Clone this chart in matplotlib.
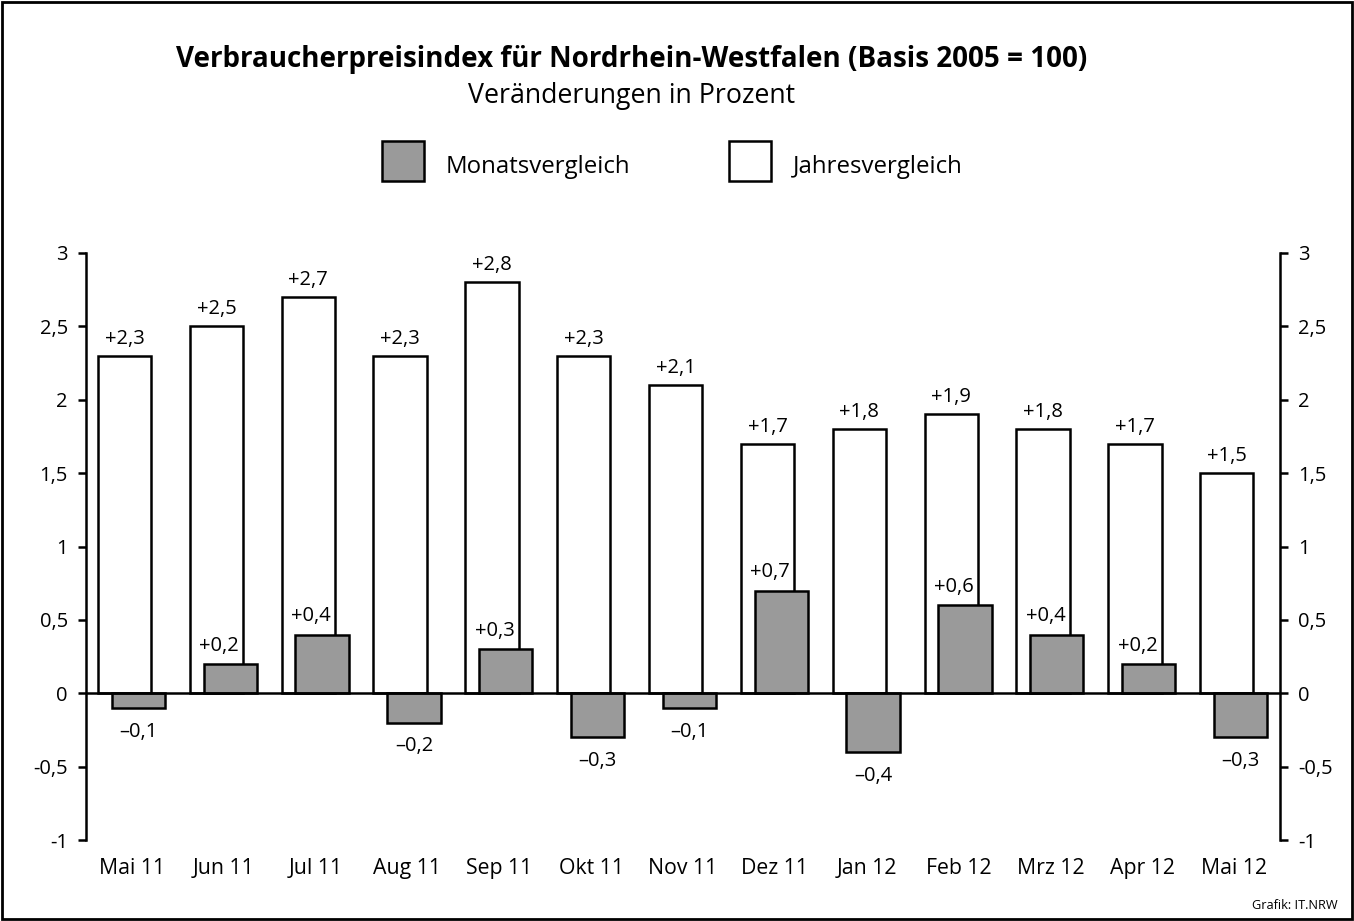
import matplotlib
matplotlib.use("Agg")
import matplotlib.pyplot as plt
from matplotlib.patches import Rectangle
import numpy as np

plt.rcParams['font.family'] = ['Open Sans', 'DejaVu Sans']

months = ["Mai 11", "Jun 11", "Jul 11", "Aug 11", "Sep 11", "Okt 11", "Nov 11",
          "Dez 11", "Jan 12", "Feb 12", "Mrz 12", "Apr 12", "Mai 12"]
jahres = [2.3, 2.5, 2.7, 2.3, 2.8, 2.3, 2.1, 1.7, 1.8, 1.9, 1.8, 1.7, 1.5]
monats = [-0.1, 0.2, 0.4, -0.2, 0.3, -0.3, -0.1, 0.7, -0.4, 0.6, 0.4, 0.2, -0.3]
yticks = [-1, -0.5, 0, 0.5, 1, 1.5, 2, 2.5, 3]
ytick_labels = ["-1", "-0,5", "0", "0,5", "1", "1,5", "2", "2,5", "3"]

W, H = 1354, 921
fig = plt.figure(figsize=(W / 100, H / 100), dpi=100)

# Figure border
fig.patches.append(Rectangle((2 / W, 2 / H), (W - 4) / W, (H - 4) / H,
                             transform=fig.transFigure, fill=False,
                             edgecolor='black', linewidth=2.0, zorder=10))

ax = fig.add_axes([86 / W, 1 - 840 / H, (1280 - 86) / W, (840 - 253) / H])
x = np.arange(len(months))
bw = 0.58
off_w = -0.08
off_m = 0.07
gray = '#9a9a9a'

ax.bar(x + off_w, jahres, width=bw, color='white', edgecolor='black', linewidth=1.8, zorder=2)
ax.bar(x + off_m, monats, width=bw, color=gray, edgecolor='black', linewidth=1.8, zorder=3)
ax.axhline(0, color='black', linewidth=1.8, zorder=4)

def fmt(v):
    s = f"{abs(v):.1f}".replace('.', ',')
    return ('+' if v > 0 else '\u2013') + s

fs = 14.5
for i, v in enumerate(jahres):
    ax.annotate(fmt(v), (x[i] + off_w, v), xytext=(0, 5), textcoords='offset points',
                ha='center', va='bottom', fontsize=fs, zorder=5)
for i, v in enumerate(monats):
    if v > 0:
        ax.annotate(fmt(v), (x[i] - 0.05, v), xytext=(0, 6), textcoords='offset points',
                    ha='center', va='bottom', fontsize=fs, zorder=5)
    else:
        ax.annotate(fmt(v), (x[i] + off_m, v), xytext=(0, -10), textcoords='offset points',
                    ha='center', va='top', fontsize=fs, zorder=5)

ax.set_xlim(-0.5, len(months) - 0.5)
ax.set_ylim(-1, 3)
ax.set_yticks(yticks)
ax.set_yticklabels(ytick_labels)
ax.set_xticks(x)
ax.set_xticklabels(months)
ax.tick_params(axis='x', length=0, pad=13, labelsize=15.3)
ax.tick_params(axis='y', direction='out', length=6, width=1.8, pad=7, labelsize=14.5,
               left=True, right=True, labelleft=True, labelright=True)
for s in ['top', 'bottom']:
    ax.spines[s].set_visible(False)
for s in ['left', 'right']:
    ax.spines[s].set_linewidth(1.8)

# Titles
fig.text(632 / W, 1 - 60 / H, "Verbraucherpreisindex für Nordrhein-Westfalen (Basis 2005 = 100)",
         ha='center', va='center', fontsize=20, fontweight='bold')
fig.text(632 / W, 1 - 96 / H, "Veränderungen in Prozent", ha='center', va='center', fontsize=19.3)

# Legend
fig.patches.append(Rectangle((382 / W, 1 - 181 / H), 42 / W, 40 / H, transform=fig.transFigure,
                             facecolor=gray, edgecolor='black', linewidth=1.8))
fig.text(446 / W, 1 - 167 / H, "Monatsvergleich", ha='left', va='center', fontsize=17.3)
fig.patches.append(Rectangle((729 / W, 1 - 181 / H), 42 / W, 40 / H, transform=fig.transFigure,
                             facecolor='white', edgecolor='black', linewidth=1.8))
fig.text(793 / W, 1 - 167 / H, "Jahresvergleich", ha='left', va='center', fontsize=17.3)

fig.text(1338 / W, 1 - 905 / H, "Grafik: IT.NRW", ha='right', va='center', fontsize=9.2)

fig.savefig("out.png", dpi=100)
